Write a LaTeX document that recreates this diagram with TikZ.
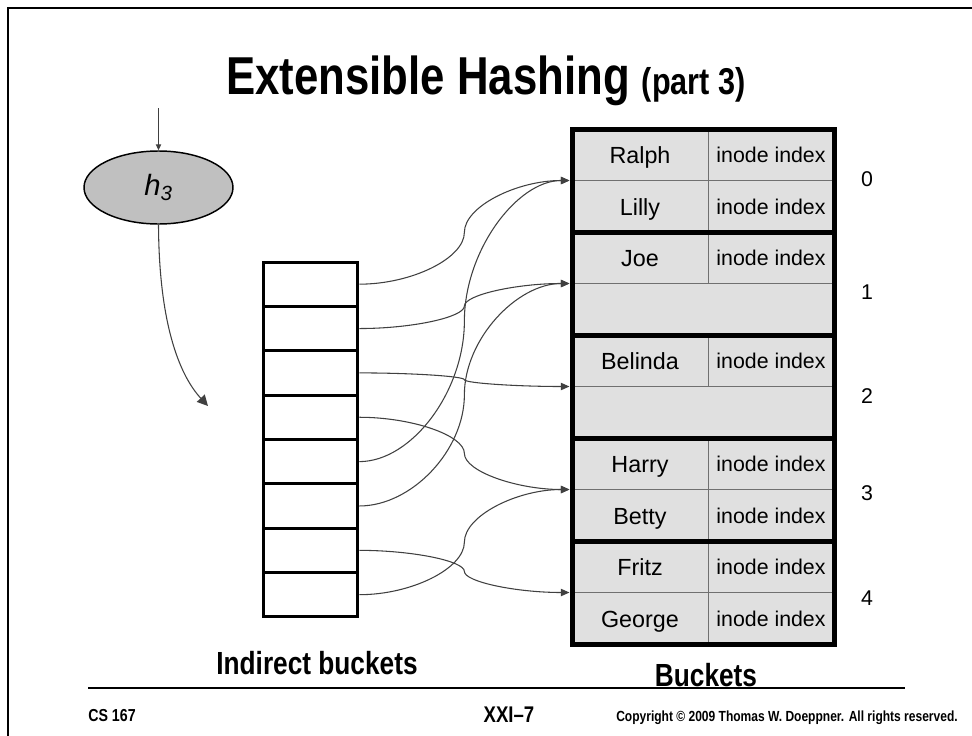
\documentclass[tikz,border=0pt]{standalone}
\usepackage{fontspec}
\usepackage{graphicx}
\setmainfont{Liberation Sans}
\usetikzlibrary{arrows.meta,calc,shapes.geometric}
\definecolor{cellgrey}{HTML}{E0E0E0}
\definecolor{ellgrey}{HTML}{C0C0C0}
\definecolor{conncol}{HTML}{404040}
\definecolor{thingrey}{HTML}{707070}
\newcommand{\narrowtxt}[1]{\scalebox{0.82}[1]{#1}}
\tikzset{
  conn/.style={draw=conncol, line width=0.8pt, -{Triangle[length=6.5pt,width=5.5pt]}},
  ppconn/.style={to path={let \p1=(\tikztostart), \p2=(\tikztotarget) in
    .. controls ({(3*\x1+\x2)/4},\y1) and ({(\x1+\x2)/2},{(3*\y1+\y2)/4})
    .. ({(\x1+\x2)/2},{(\y1+\y2)/2})
    .. controls ({(\x1+\x2)/2},{(\y1+3*\y2)/4}) and ({(\x1+3*\x2)/4},\y2)
    .. (\tikztotarget)}},
  slotbox/.style={draw, line width=2.25pt, minimum width=70.9pt, minimum height=33.27pt, inner sep=0pt},
  bucketbox/.style={draw, line width=3.75pt, minimum width=196.5pt, minimum height=77.25pt, inner sep=0pt},
  nametext/.style={font=\fontsize{17.5pt}{20pt}\selectfont, inner sep=0pt, anchor=base},
  idxtext/.style={font=\fontsize{16pt}{19pt}\selectfont, inner sep=0pt, anchor=base},
  numtext/.style={font=\fontsize{16pt}{19pt}\selectfont, inner sep=0pt},
  labeltext/.style={font=\fontsize{24pt}{28pt}\selectfont\bfseries, inner sep=0pt, anchor=base},
}
\begin{document}
\begin{tikzpicture}[x=0.75pt,y=0.75pt]
\useasboundingbox (0,0) rectangle (972,-736);
% slide frame
\draw[line width=1.5pt] (8,-740) -- (8,-8) -- (976,-8);
% title
\node[anchor=base, inner sep=0pt] (title) at (486,-94)
  {\narrowtxt{\fontsize{40pt}{46pt}\selectfont\bfseries Extensible Hashing \fontsize{28pt}{32pt}\selectfont(part 3)}};
% hash function
\node[ellipse, draw, line width=1.1pt, fill=ellgrey, minimum width=111.75pt, minimum height=54.75pt, inner sep=0pt]
  (h) at (158.5,-187.5) {\fontsize{22pt}{26pt}\selectfont\itshape h\textsubscript{3}};
\coordinate (hin) at (158.5,-108);
\coordinate (slot) at (208,-406);
\draw[draw=conncol, line width=0.8pt, -{Triangle[length=4.5pt,width=4pt]}] (hin) -- (h.north);
\draw[draw=conncol, line width=0.8pt, -{Triangle[length=8pt,width=8pt]}] (h.south) .. controls (159,-330) and (182,-378) .. (slot);
% indirect buckets
\foreach \i in {0,...,7}{
  \node[slotbox] (s\i) at (310.5,{-(262+44.36*(\i+0.5))}) {};
}
% buckets
\fill[cellgrey] (572,-129) rectangle (834,-644);
\foreach \i in {0,...,4}{
  \draw[thingrey, line width=0.75pt] (572,{-(180.5+103*\i)}) -- (834,{-(180.5+103*\i)});
}
\foreach \i in {0,3,4}{
  \draw[thingrey, line width=0.75pt] (708,{-(129+103*\i)}) -- (708,{-(232+103*\i)});
}
\foreach \i in {1,2}{
  \draw[thingrey, line width=0.75pt] (708,{-(129+103*\i)}) -- (708,{-(180.5+103*\i)});
}
\foreach \i in {0,...,4}{
  \node[bucketbox] (b\i) at (703,{-(180.5+103*\i)}) {};
}
% cell texts
\foreach \r/\nm in {0/Ralph,1/Lilly,2/Joe,4/Belinda,6/Harry,7/Betty,8/Fritz,9/George}{
  \node[nametext] (n\r) at (640,{-(163.5+51.5*\r)}) {\nm};
  \node[idxtext] (v\r) at (771,{-(162.5+51.5*\r)}) {inode index};
}
% bucket numbers
\node[numtext] (k0) at (867,-179) {0};
\node[numtext] (k1) at (867,-292) {1};
\node[numtext] (k2) at (867,-396) {2};
\node[numtext] (k3) at (867,-493) {3};
\node[numtext] (k4) at (867,-598) {4};
% connectors
\draw[conn] (s0.east) to[ppconn] (b0.west);
\draw[conn] (s1.east) to[ppconn] (b1.west);
\draw[conn] (s2.east) to[ppconn] (b2.west);
\draw[conn] (s3.east) to[ppconn] (b3.west);
\draw[conn] (s4.east) to[ppconn] (b0.west);
\draw[conn] (s5.east) to[ppconn] (b1.west);
\draw[conn] (s6.east) to[ppconn] (b4.west);
\draw[conn] (s7.east) to[ppconn] (b3.west);
% labels
\node[labeltext] (lind) at (317,-674) {\narrowtxt{Indirect buckets}};
\node[labeltext] (lbuck) at (706,-686) {\narrowtxt{Buckets}};
\draw[line width=1.5pt] (88,-688) -- (905,-688);
% footer
\node[anchor=base west, inner sep=0pt, font=\fontsize{13pt}{15pt}\selectfont\bfseries] (f1) at (88,-721) {\narrowtxt{CS 167}};
\node[anchor=base, inner sep=0pt, font=\fontsize{17pt}{20pt}\selectfont\bfseries] (f2) at (509,-722) {\narrowtxt{XXI–7}};
\node[anchor=base east, inner sep=0pt, font=\fontsize{11pt}{13pt}\selectfont\bfseries] (f3) at (958,-721) {\narrowtxt{Copyright © 2009 Thomas W. Doeppner. All rights reserved.}};
\end{tikzpicture}
\end{document}
